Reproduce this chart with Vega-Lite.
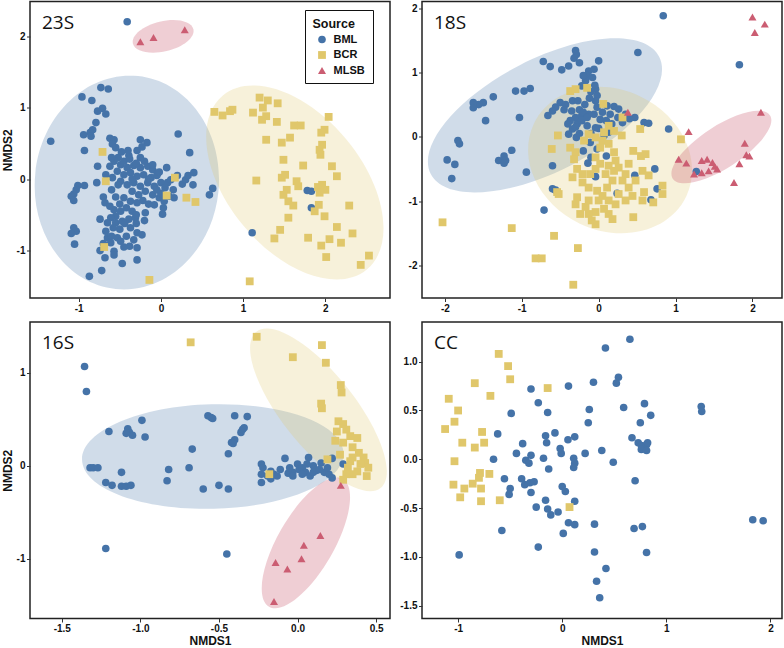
{
"$schema":"https://vega.github.io/schema/vega-lite/v6.json",
"padding":{"left":0,"top":0.5,"right":0,"bottom":0},
"background":"white",
"config":{
 "view":{"stroke":"#222","strokeWidth":1.5},
 "axis":{"domain":false,"grid":false,"tickSize":3.5,"tickColor":"#333","tickWidth":1,"labelFont":"Liberation Sans","labelFontSize":10,"labelFontWeight":"bold","labelColor":"#111","labelPadding":1.5,"titleFont":"Liberation Sans","titleFontSize":12,"titleFontWeight":"bold","titleColor":"#111"},
 "axisY":{"titlePadding":2},
 "axisX":{"titlePadding":1.5}
},
"datasets":{
"ell":[
{"p":"23S","s":"BML","x":-0.414,"y":-0.048},{"p":"23S","s":"BCR","x":1.629,"y":-0.048},{"p":"23S","s":"MLSB","x":0.027,"y":1.996},
{"p":"18S","s":"BML","x":-0.698,"y":0.332},{"p":"18S","s":"BCR","x":0.149,"y":-0.362},{"p":"18S","s":"MLSB","x":1.596,"y":-0.160},
{"p":"16S","s":"BML","x":-0.539,"y":0.100},{"p":"16S","s":"BCR","x":0.133,"y":0.603},{"p":"16S","s":"MLSB","x":0.053,"y":-0.830}
],
"pts":[
{"p":"23S","s":"BML","x":-0.41,"y":2.2},{"p":"23S","s":"BML","x":-1.34,"y":0.53},{"p":"23S","s":"BML","x":-0.96,"y":1.15},{"p":"23S","s":"BML","x":-0.84,"y":1.1},{"p":"23S","s":"BML","x":-0.73,"y":1.28},{"p":"23S","s":"BML","x":-0.64,"y":1.26},{"p":"23S","s":"BML","x":-0.71,"y":0.99},{"p":"23S","s":"BML","x":-0.77,"y":0.95},{"p":"23S","s":"BML","x":-0.67,"y":0.91},{"p":"23S","s":"BML","x":-0.79,"y":0.79},{"p":"23S","s":"BML","x":-0.83,"y":0.69},{"p":"23S","s":"BML","x":-0.86,"y":0.65},{"p":"23S","s":"BML","x":-0.94,"y":0.62},{"p":"23S","s":"BML","x":-0.85,"y":0.6},{"p":"23S","s":"BML","x":-0.93,"y":0.4},{"p":"23S","s":"BML","x":-0.77,"y":0.18},{"p":"23S","s":"BML","x":-0.62,"y":0.57},{"p":"23S","s":"BML","x":-0.57,"y":0.55},{"p":"23S","s":"BML","x":-0.59,"y":0.49},{"p":"23S","s":"BML","x":-0.55,"y":0.44},{"p":"23S","s":"BML","x":-0.25,"y":0.55},{"p":"23S","s":"BML","x":-0.17,"y":0.51},{"p":"23S","s":"BML","x":-0.23,"y":0.45},{"p":"23S","s":"BML","x":-0.29,"y":0.4},{"p":"23S","s":"BML","x":-0.39,"y":0.33},{"p":"23S","s":"BML","x":-0.52,"y":0.3},{"p":"23S","s":"BML","x":0.21,"y":0.63},{"p":"23S","s":"BML","x":0.35,"y":0.37},{"p":"23S","s":"BML","x":0.07,"y":0.16},{"p":"23S","s":"BML","x":-0.57,"y":0.25},{"p":"23S","s":"BML","x":-0.49,"y":0.2},{"p":"23S","s":"BML","x":-0.41,"y":0.16},{"p":"23S","s":"BML","x":-0.33,"y":0.19},{"p":"23S","s":"BML","x":-0.25,"y":0.16},{"p":"23S","s":"BML","x":-0.16,"y":0.18},{"p":"23S","s":"BML","x":-0.1,"y":0.13},{"p":"23S","s":"BML","x":-0.67,"y":0.06},{"p":"23S","s":"BML","x":-0.59,"y":0.02},{"p":"23S","s":"BML","x":-0.53,"y":0.11},{"p":"23S","s":"BML","x":-0.45,"y":0.06},{"p":"23S","s":"BML","x":-0.37,"y":0.09},{"p":"23S","s":"BML","x":-0.29,"y":0.04},{"p":"23S","s":"BML","x":-0.21,"y":0.06},{"p":"23S","s":"BML","x":-0.12,"y":0.02},{"p":"23S","s":"BML","x":-0.04,"y":0.08},{"p":"23S","s":"BML","x":-0.49,"y":-0.03},{"p":"23S","s":"BML","x":-0.41,"y":-0.08},{"p":"23S","s":"BML","x":-0.33,"y":-0.05},{"p":"23S","s":"BML","x":-0.25,"y":-0.1},{"p":"23S","s":"BML","x":-0.16,"y":-0.05},{"p":"23S","s":"BML","x":-0.08,"y":-0.1},{"p":"23S","s":"BML","x":-0.35,"y":-0.17},{"p":"23S","s":"BML","x":-0.27,"y":-0.22},{"p":"23S","s":"BML","x":-0.19,"y":-0.17},{"p":"23S","s":"BML","x":-0.1,"y":-0.22},{"p":"23S","s":"BML","x":-0.02,"y":-0.26},{"p":"23S","s":"BML","x":-0.45,"y":-0.26},{"p":"23S","s":"BML","x":-0.37,"y":-0.31},{"p":"23S","s":"BML","x":-0.29,"y":-0.33},{"p":"23S","s":"BML","x":0.08,"y":-0.05},{"p":"23S","s":"BML","x":0.12,"y":-0.01},{"p":"23S","s":"BML","x":0.1,"y":-0.24},{"p":"23S","s":"BML","x":0.03,"y":-0.4},{"p":"23S","s":"BML","x":0.02,"y":-0.49},{"p":"23S","s":"BML","x":0.16,"y":-0.26},{"p":"23S","s":"BML","x":0.26,"y":-0.07},{"p":"23S","s":"BML","x":0.3,"y":-0.01},{"p":"23S","s":"BML","x":0.33,"y":0.05},{"p":"23S","s":"BML","x":0.4,"y":0.09},{"p":"23S","s":"BML","x":0.39,"y":-0.08},{"p":"23S","s":"BML","x":0.63,"y":-0.13},{"p":"23S","s":"BML","x":0.59,"y":-0.22},{"p":"23S","s":"BML","x":-1.01,"y":-0.09},{"p":"23S","s":"BML","x":-0.93,"y":-0.09},{"p":"23S","s":"BML","x":-1.03,"y":-0.15},{"p":"23S","s":"BML","x":-1.06,"y":-0.21},{"p":"23S","s":"BML","x":-1.09,"y":-0.24},{"p":"23S","s":"BML","x":-1.06,"y":-0.3},{"p":"23S","s":"BML","x":-0.78,"y":-0.05},{"p":"23S","s":"BML","x":-0.68,"y":-0.33},{"p":"23S","s":"BML","x":-0.57,"y":-0.43},{"p":"23S","s":"BML","x":-0.49,"y":-0.45},{"p":"23S","s":"BML","x":-0.55,"y":-0.52},{"p":"23S","s":"BML","x":-0.61,"y":-0.54},{"p":"23S","s":"BML","x":-0.74,"y":-0.56},{"p":"23S","s":"BML","x":-0.65,"y":-0.61},{"p":"23S","s":"BML","x":-0.55,"y":-0.61},{"p":"23S","s":"BML","x":-0.47,"y":-0.59},{"p":"23S","s":"BML","x":-0.39,"y":-0.56},{"p":"23S","s":"BML","x":-0.31,"y":-0.54},{"p":"23S","s":"BML","x":-0.37,"y":-0.68},{"p":"23S","s":"BML","x":-0.29,"y":-0.75},{"p":"23S","s":"BML","x":-0.23,"y":-0.78},{"p":"23S","s":"BML","x":-0.67,"y":-0.73},{"p":"23S","s":"BML","x":-0.65,"y":-0.82},{"p":"23S","s":"BML","x":-0.61,"y":-0.89},{"p":"23S","s":"BML","x":-0.53,"y":-0.82},{"p":"23S","s":"BML","x":-0.49,"y":-0.87},{"p":"23S","s":"BML","x":-0.42,"y":-0.8},{"p":"23S","s":"BML","x":-0.38,"y":-0.94},{"p":"23S","s":"BML","x":-0.29,"y":-0.96},{"p":"23S","s":"BML","x":-0.74,"y":-1.0},{"p":"23S","s":"BML","x":-0.68,"y":-1.1},{"p":"23S","s":"BML","x":-0.57,"y":-1.01},{"p":"23S","s":"BML","x":-0.57,"y":-1.06},{"p":"23S","s":"BML","x":-0.29,"y":-1.13},{"p":"23S","s":"BML","x":-0.47,"y":-1.18},{"p":"23S","s":"BML","x":-0.72,"y":-1.28},{"p":"23S","s":"BML","x":-0.87,"y":-1.36},{"p":"23S","s":"BML","x":-1.06,"y":-0.68},{"p":"23S","s":"BML","x":-1.03,"y":-0.73},{"p":"23S","s":"BML","x":-1.09,"y":-0.76},{"p":"23S","s":"BML","x":-1.05,"y":-0.91},{"p":"23S","s":"BML","x":-0.19,"y":-0.47},{"p":"23S","s":"BML","x":-0.08,"y":-0.36},{"p":"23S","s":"BML","x":0.04,"y":-0.31},{"p":"23S","s":"BML","x":1.83,"y":-0.17},{"p":"23S","s":"BML","x":1.78,"y":-0.16},{"p":"23S","s":"BML","x":1.83,"y":-0.4},{"p":"23S","s":"BML","x":1.11,"y":-0.75},
{"p":"23S","s":"BML","x":-0.45,"y":0.25},{"p":"23S","s":"BML","x":-0.38,"y":0.28},{"p":"23S","s":"BML","x":-0.3,"y":0.22},{"p":"23S","s":"BML","x":-0.2,"y":0.25},{"p":"23S","s":"BML","x":-0.1,"y":0.2},{"p":"23S","s":"BML","x":-0.05,"y":0.05},{"p":"23S","s":"BML","x":0.0,"y":-0.05},{"p":"23S","s":"BML","x":-0.02,"y":0.1},{"p":"23S","s":"BML","x":-0.15,"y":0.0},{"p":"23S","s":"BML","x":-0.35,"y":0.0},{"p":"23S","s":"BML","x":-0.52,"y":-0.08},{"p":"23S","s":"BML","x":-0.6,"y":-0.15},{"p":"23S","s":"BML","x":-0.55,"y":-0.25},{"p":"23S","s":"BML","x":-0.5,"y":-0.35},{"p":"23S","s":"BML","x":-0.42,"y":-0.4},{"p":"23S","s":"BML","x":-0.35,"y":-0.45},{"p":"23S","s":"BML","x":-0.3,"y":-0.5},{"p":"23S","s":"BML","x":-0.22,"y":-0.3},{"p":"23S","s":"BML","x":-0.15,"y":-0.35},{"p":"23S","s":"BML","x":-0.05,"y":-0.15},{"p":"23S","s":"BML","x":0.05,"y":-0.12},{"p":"23S","s":"BML","x":-0.25,"y":0.3},{"p":"23S","s":"BML","x":-0.4,"y":0.4},{"p":"23S","s":"BML","x":-0.48,"y":0.38},{"p":"23S","s":"BML","x":-0.6,"y":0.3},{"p":"23S","s":"BML","x":-0.62,"y":0.18},{"p":"23S","s":"BML","x":-0.7,"y":-0.25},{"p":"23S","s":"BML","x":-0.62,"y":-0.38},{"p":"23S","s":"BML","x":-0.58,"y":-0.68},{"p":"23S","s":"BML","x":-0.5,"y":-0.7},{"p":"23S","s":"BML","x":-0.44,"y":-0.62},{"p":"23S","s":"BML","x":-0.6,"y":-0.8},{"p":"23S","s":"BML","x":-0.7,"y":-0.9},{"p":"23S","s":"BML","x":-0.45,"y":-0.95},{"p":"23S","s":"BML","x":-0.33,"y":-0.85},{"p":"23S","s":"BML","x":-0.3,"y":-0.62},{"p":"23S","s":"BML","x":-0.2,"y":-0.58},{"p":"23S","s":"BML","x":0.0,"y":-0.2},{"p":"23S","s":"BML","x":0.15,"y":-0.15},{"p":"23S","s":"BML","x":0.2,"y":0.05},
{"p":"23S","s":"BCR","x":-0.71,"y":0.38},{"p":"23S","s":"BCR","x":-0.67,"y":-0.03},{"p":"23S","s":"BCR","x":0.17,"y":0.02},{"p":"23S","s":"BCR","x":0.07,"y":-0.23},{"p":"23S","s":"BCR","x":0.31,"y":-0.26},{"p":"23S","s":"BCR","x":0.42,"y":-0.32},{"p":"23S","s":"BCR","x":-0.69,"y":-0.95},{"p":"23S","s":"BCR","x":-0.14,"y":-1.41},{"p":"23S","s":"BCR","x":1.08,"y":-1.43},{"p":"23S","s":"BCR","x":0.65,"y":0.94},{"p":"23S","s":"BCR","x":0.75,"y":0.89},{"p":"23S","s":"BCR","x":0.84,"y":0.95},{"p":"23S","s":"BCR","x":0.87,"y":0.97},{"p":"23S","s":"BCR","x":1.2,"y":1.14},{"p":"23S","s":"BCR","x":1.3,"y":1.1},{"p":"23S","s":"BCR","x":1.42,"y":1.06},{"p":"23S","s":"BCR","x":1.12,"y":0.93},{"p":"23S","s":"BCR","x":1.24,"y":1.0},{"p":"23S","s":"BCR","x":1.28,"y":0.88},{"p":"23S","s":"BCR","x":1.23,"y":0.83},{"p":"23S","s":"BCR","x":1.41,"y":0.8},{"p":"23S","s":"BCR","x":1.62,"y":0.75},{"p":"23S","s":"BCR","x":1.7,"y":0.75},{"p":"23S","s":"BCR","x":2.04,"y":0.87},{"p":"23S","s":"BCR","x":1.99,"y":0.69},{"p":"23S","s":"BCR","x":1.95,"y":0.65},{"p":"23S","s":"BCR","x":1.57,"y":0.58},{"p":"23S","s":"BCR","x":1.47,"y":0.51},{"p":"23S","s":"BCR","x":1.28,"y":0.55},{"p":"23S","s":"BCR","x":1.96,"y":0.48},{"p":"23S","s":"BCR","x":1.93,"y":0.41},{"p":"23S","s":"BCR","x":1.94,"y":0.34},{"p":"23S","s":"BCR","x":1.49,"y":0.27},{"p":"23S","s":"BCR","x":1.73,"y":0.19},{"p":"23S","s":"BCR","x":2.08,"y":0.18},{"p":"23S","s":"BCR","x":2.14,"y":0.04},{"p":"23S","s":"BCR","x":1.16,"y":-0.02},{"p":"23S","s":"BCR","x":1.47,"y":0.02},{"p":"23S","s":"BCR","x":1.51,"y":0.06},{"p":"23S","s":"BCR","x":1.65,"y":-0.03},{"p":"23S","s":"BCR","x":1.67,"y":-0.1},{"p":"23S","s":"BCR","x":1.53,"y":-0.15},{"p":"23S","s":"BCR","x":1.49,"y":-0.22},{"p":"23S","s":"BCR","x":1.55,"y":-0.31},{"p":"23S","s":"BCR","x":1.61,"y":-0.37},{"p":"23S","s":"BCR","x":1.91,"y":-0.11},{"p":"23S","s":"BCR","x":1.96,"y":-0.08},{"p":"23S","s":"BCR","x":2.0,"y":-0.15},{"p":"23S","s":"BCR","x":1.93,"y":-0.19},{"p":"23S","s":"BCR","x":1.92,"y":-0.36},{"p":"23S","s":"BCR","x":1.87,"y":-0.45},{"p":"23S","s":"BCR","x":1.99,"y":-0.52},{"p":"23S","s":"BCR","x":1.55,"y":-0.54},{"p":"23S","s":"BCR","x":2.29,"y":-0.37},{"p":"23S","s":"BCR","x":1.45,"y":-0.71},{"p":"23S","s":"BCR","x":1.38,"y":-0.83},{"p":"23S","s":"BCR","x":1.79,"y":-0.82},{"p":"23S","s":"BCR","x":2.14,"y":-0.67},{"p":"23S","s":"BCR","x":2.33,"y":-0.76},{"p":"23S","s":"BCR","x":2.05,"y":-0.84},{"p":"23S","s":"BCR","x":2.19,"y":-0.89},{"p":"23S","s":"BCR","x":1.95,"y":-0.93},{"p":"23S","s":"BCR","x":2.01,"y":-1.09},{"p":"23S","s":"BCR","x":2.53,"y":-1.07},{"p":"23S","s":"BCR","x":2.43,"y":-1.2},
{"p":"23S","s":"MLSB","x":-0.25,"y":1.92},{"p":"23S","s":"MLSB","x":-0.09,"y":1.98},{"p":"23S","s":"MLSB","x":0.29,"y":2.09},
{"p":"18S","s":"BML","x":0.84,"y":1.88},{"p":"18S","s":"BML","x":1.83,"y":1.12},{"p":"18S","s":"BML","x":0.51,"y":1.31},{"p":"18S","s":"BML","x":0.0,"y":1.18},{"p":"18S","s":"BML","x":-0.3,"y":1.34},{"p":"18S","s":"BML","x":-0.29,"y":1.28},{"p":"18S","s":"BML","x":-0.32,"y":1.22},{"p":"18S","s":"BML","x":-0.39,"y":1.1},{"p":"18S","s":"BML","x":-0.48,"y":1.04},{"p":"18S","s":"BML","x":-0.63,"y":1.09},{"p":"18S","s":"BML","x":-0.72,"y":1.17},{"p":"18S","s":"BML","x":-0.13,"y":1.02},{"p":"18S","s":"BML","x":-0.06,"y":1.05},{"p":"18S","s":"BML","x":-0.15,"y":0.95},{"p":"18S","s":"BML","x":-0.08,"y":0.92},{"p":"18S","s":"BML","x":-0.17,"y":0.87},{"p":"18S","s":"BML","x":-0.22,"y":0.79},{"p":"18S","s":"BML","x":-0.04,"y":0.74},{"p":"18S","s":"BML","x":-0.02,"y":0.64},{"p":"18S","s":"BML","x":-0.04,"y":0.56},{"p":"18S","s":"BML","x":-0.02,"y":0.46},{"p":"18S","s":"BML","x":-0.06,"y":0.35},{"p":"18S","s":"BML","x":-0.13,"y":0.35},{"p":"18S","s":"BML","x":-0.22,"y":0.33},{"p":"18S","s":"BML","x":-0.3,"y":0.3},{"p":"18S","s":"BML","x":-0.37,"y":0.25},{"p":"18S","s":"BML","x":-0.28,"y":0.2},{"p":"18S","s":"BML","x":-0.34,"y":0.12},{"p":"18S","s":"BML","x":-0.39,"y":0.04},{"p":"18S","s":"BML","x":-0.29,"y":-0.01},{"p":"18S","s":"BML","x":-0.22,"y":0.25},{"p":"18S","s":"BML","x":-0.15,"y":0.17},{"p":"18S","s":"BML","x":-0.04,"y":0.14},{"p":"18S","s":"BML","x":0.02,"y":0.27},{"p":"18S","s":"BML","x":0.11,"y":0.48},{"p":"18S","s":"BML","x":0.2,"y":0.47},{"p":"18S","s":"BML","x":0.26,"y":0.43},{"p":"18S","s":"BML","x":0.35,"y":0.35},{"p":"18S","s":"BML","x":0.47,"y":0.3},{"p":"18S","s":"BML","x":0.31,"y":0.22},{"p":"18S","s":"BML","x":0.17,"y":0.2},{"p":"18S","s":"BML","x":0.59,"y":0.22},{"p":"18S","s":"BML","x":0.65,"y":0.21},{"p":"18S","s":"BML","x":0.91,"y":0.12},{"p":"18S","s":"BML","x":-0.56,"y":0.46},{"p":"18S","s":"BML","x":-0.6,"y":0.4},{"p":"18S","s":"BML","x":-0.66,"y":0.33},{"p":"18S","s":"BML","x":-0.5,"y":0.53},{"p":"18S","s":"BML","x":-0.43,"y":0.5},{"p":"18S","s":"BML","x":-0.34,"y":0.56},{"p":"18S","s":"BML","x":-0.27,"y":0.56},{"p":"18S","s":"BML","x":-0.89,"y":0.75},{"p":"18S","s":"BML","x":-0.97,"y":0.71},{"p":"18S","s":"BML","x":-1.08,"y":0.71},{"p":"18S","s":"BML","x":-1.37,"y":0.62},{"p":"18S","s":"BML","x":-1.5,"y":0.53},{"p":"18S","s":"BML","x":-1.56,"y":0.5},{"p":"18S","s":"BML","x":-1.63,"y":0.53},{"p":"18S","s":"BML","x":-1.63,"y":0.45},{"p":"18S","s":"BML","x":-1.47,"y":0.25},{"p":"18S","s":"BML","x":-1.03,"y":0.3},{"p":"18S","s":"BML","x":-1.83,"y":-0.06},{"p":"18S","s":"BML","x":-1.81,"y":-0.11},{"p":"18S","s":"BML","x":-1.97,"y":-0.36},{"p":"18S","s":"BML","x":-1.87,"y":-0.43},{"p":"18S","s":"BML","x":-1.91,"y":-0.65},{"p":"18S","s":"BML","x":-1.3,"y":-0.37},{"p":"18S","s":"BML","x":-1.23,"y":-0.3},{"p":"18S","s":"BML","x":-1.21,"y":-0.37},{"p":"18S","s":"BML","x":-1.23,"y":-0.41},{"p":"18S","s":"BML","x":-1.13,"y":-0.21},{"p":"18S","s":"BML","x":-0.94,"y":-0.55},{"p":"18S","s":"BML","x":-0.6,"y":-0.45},{"p":"18S","s":"BML","x":-0.6,"y":-0.81},{"p":"18S","s":"BML","x":-0.56,"y":-0.83},{"p":"18S","s":"BML","x":-0.71,"y":-1.14},{"p":"18S","s":"BML","x":-0.2,"y":-0.22},{"p":"18S","s":"BML","x":-0.14,"y":-0.41},{"p":"18S","s":"BML","x":-0.1,"y":-0.32},{"p":"18S","s":"BML","x":-0.11,"y":-0.09},{"p":"18S","s":"BML","x":-0.02,"y":-0.19},{"p":"18S","s":"BML","x":0.1,"y":-0.3},{"p":"18S","s":"BML","x":-0.04,"y":-0.62},{"p":"18S","s":"BML","x":0.24,"y":-0.88},{"p":"18S","s":"BML","x":0.47,"y":-0.6},{"p":"18S","s":"BML","x":0.73,"y":-0.5},{"p":"18S","s":"BML","x":0.76,"y":-0.81},{"p":"18S","s":"BML","x":0.68,"y":-0.98},{"p":"18S","s":"BML","x":1.27,"y":-0.54},{"p":"18S","s":"BML","x":0.0,"y":0.13},{"p":"18S","s":"BML","x":0.07,"y":0.02},{"p":"18S","s":"BML","x":0.13,"y":0.07},
{"p":"18S","s":"BML","x":-0.1,"y":0.7},{"p":"18S","s":"BML","x":-0.12,"y":0.6},{"p":"18S","s":"BML","x":-0.18,"y":0.5},{"p":"18S","s":"BML","x":-0.25,"y":0.42},{"p":"18S","s":"BML","x":-0.45,"y":0.42},{"p":"18S","s":"BML","x":-0.35,"y":0.4},{"p":"18S","s":"BML","x":-0.2,"y":0.38},{"p":"18S","s":"BML","x":-0.3,"y":0.15},{"p":"18S","s":"BML","x":-0.25,"y":0.05},{"p":"18S","s":"BML","x":-0.1,"y":0.05},{"p":"18S","s":"BML","x":0.05,"y":0.38},{"p":"18S","s":"BML","x":0.15,"y":0.35},{"p":"18S","s":"BML","x":0.25,"y":0.3},{"p":"18S","s":"BML","x":0.4,"y":0.28},{"p":"18S","s":"BML","x":-0.05,"y":0.8},{"p":"18S","s":"BML","x":-0.2,"y":0.95},{"p":"18S","s":"BML","x":-0.25,"y":1.15},{"p":"18S","s":"BML","x":-0.4,"y":0.2},{"p":"18S","s":"BML","x":-0.15,"y":0.3},{"p":"18S","s":"BML","x":0.1,"y":0.25},
{"p":"18S","s":"BCR","x":-2.03,"y":-1.33},{"p":"18S","s":"BCR","x":-1.13,"y":-1.42},{"p":"18S","s":"BCR","x":-0.58,"y":-1.54},{"p":"18S","s":"BCR","x":-0.27,"y":-1.73},{"p":"18S","s":"BCR","x":-0.82,"y":-1.89},{"p":"18S","s":"BCR","x":-0.74,"y":-1.89},{"p":"18S","s":"BCR","x":-0.33,"y":-2.3},{"p":"18S","s":"BCR","x":-0.37,"y":0.71},{"p":"18S","s":"BCR","x":-0.3,"y":0.74},{"p":"18S","s":"BCR","x":-0.15,"y":0.76},{"p":"18S","s":"BCR","x":-0.53,"y":0.02},{"p":"18S","s":"BCR","x":-0.61,"y":-0.19},{"p":"18S","s":"BCR","x":-0.37,"y":-0.17},{"p":"18S","s":"BCR","x":-0.3,"y":-0.24},{"p":"18S","s":"BCR","x":-0.32,"y":-0.35},{"p":"18S","s":"BCR","x":-0.54,"y":-0.86},{"p":"18S","s":"BCR","x":-0.52,"y":-0.89},{"p":"18S","s":"BCR","x":0.06,"y":0.51},{"p":"18S","s":"BCR","x":0.31,"y":0.3},{"p":"18S","s":"BCR","x":0.54,"y":0.12},{"p":"18S","s":"BCR","x":1.07,"y":-0.04},{"p":"18S","s":"BCR","x":0.3,"y":0.02},{"p":"18S","s":"BCR","x":0.2,"y":0.09},{"p":"18S","s":"BCR","x":0.13,"y":0.17},{"p":"18S","s":"BCR","x":0.07,"y":0.07},{"p":"18S","s":"BCR","x":0.05,"y":-0.06},{"p":"18S","s":"BCR","x":-0.04,"y":-0.01},{"p":"18S","s":"BCR","x":-0.13,"y":0.04},{"p":"18S","s":"BCR","x":-0.19,"y":-0.06},{"p":"18S","s":"BCR","x":0.13,"y":-0.11},{"p":"18S","s":"BCR","x":0.2,"y":-0.24},{"p":"18S","s":"BCR","x":0.02,"y":-0.17},{"p":"18S","s":"BCR","x":-0.04,"y":-0.32},{"p":"18S","s":"BCR","x":0.02,"y":-0.42},{"p":"18S","s":"BCR","x":0.13,"y":-0.45},{"p":"18S","s":"BCR","x":0.22,"y":-0.37},{"p":"18S","s":"BCR","x":0.45,"y":-0.22},{"p":"18S","s":"BCR","x":0.55,"y":-0.3},{"p":"18S","s":"BCR","x":0.61,"y":-0.27},{"p":"18S","s":"BCR","x":0.39,"y":-0.42},{"p":"18S","s":"BCR","x":0.57,"y":-0.53},{"p":"18S","s":"BCR","x":0.65,"y":-0.6},{"p":"18S","s":"BCR","x":0.83,"y":-0.76},{"p":"18S","s":"BCR","x":0.83,"y":-0.89},{"p":"18S","s":"BCR","x":0.71,"y":-1.02},{"p":"18S","s":"BCR","x":0.57,"y":-0.99},{"p":"18S","s":"BCR","x":0.45,"y":-1.25},{"p":"18S","s":"BCR","x":-0.28,"y":-0.5},{"p":"18S","s":"BCR","x":-0.21,"y":-0.58},{"p":"18S","s":"BCR","x":-0.34,"y":-0.63},{"p":"18S","s":"BCR","x":-0.21,"y":-0.71},{"p":"18S","s":"BCR","x":-0.13,"y":-0.79},{"p":"18S","s":"BCR","x":-0.02,"y":-0.84},{"p":"18S","s":"BCR","x":0.05,"y":-0.92},{"p":"18S","s":"BCR","x":0.11,"y":-0.79},{"p":"18S","s":"BCR","x":0.18,"y":-0.68},{"p":"18S","s":"BCR","x":0.31,"y":-0.68},{"p":"18S","s":"BCR","x":0.39,"y":-0.79},{"p":"18S","s":"BCR","x":0.44,"y":-0.92},{"p":"18S","s":"BCR","x":0.35,"y":-0.99},{"p":"18S","s":"BCR","x":0.22,"y":-1.05},{"p":"18S","s":"BCR","x":0.13,"y":-0.99},{"p":"18S","s":"BCR","x":0.07,"y":-1.12},{"p":"18S","s":"BCR","x":0.13,"y":-1.2},{"p":"18S","s":"BCR","x":0.18,"y":-1.28},{"p":"18S","s":"BCR","x":-0.04,"y":-1.17},{"p":"18S","s":"BCR","x":-0.13,"y":-1.2},{"p":"18S","s":"BCR","x":-0.24,"y":-1.2},{"p":"18S","s":"BCR","x":-0.3,"y":-1.05},{"p":"18S","s":"BCR","x":-0.28,"y":-0.94},{"p":"18S","s":"BCR","x":-0.17,"y":-1.09},{"p":"18S","s":"BCR","x":-0.09,"y":-1.3},{"p":"18S","s":"BCR","x":-0.04,"y":-1.36},{"p":"18S","s":"BCR","x":-0.13,"y":-0.99},{"p":"18S","s":"BCR","x":0.0,"y":-0.99},{"p":"18S","s":"BCR","x":0.26,"y":-0.89},{"p":"18S","s":"BCR","x":0.35,"y":-0.58},{"p":"18S","s":"BCR","x":0.48,"y":-0.68},{"p":"18S","s":"BCR","x":0.59,"y":-0.86},{"p":"18S","s":"BCR","x":0.26,"y":-0.48},{"p":"18S","s":"BCR","x":-0.11,"y":-0.58},{"p":"18S","s":"BCR","x":-0.04,"y":-0.5},{"p":"18S","s":"BCR","x":0.09,"y":-0.58},{"p":"18S","s":"BCR","x":0.2,"y":-0.53},
{"p":"18S","s":"MLSB","x":2.0,"y":1.86},{"p":"18S","s":"MLSB","x":2.16,"y":1.75},{"p":"18S","s":"MLSB","x":2.03,"y":1.62},{"p":"18S","s":"MLSB","x":2.11,"y":0.38},{"p":"18S","s":"MLSB","x":0.38,"y":0.38},{"p":"18S","s":"MLSB","x":1.17,"y":0.08},{"p":"18S","s":"MLSB","x":1.04,"y":-0.35},{"p":"18S","s":"MLSB","x":1.14,"y":-0.41},{"p":"18S","s":"MLSB","x":1.34,"y":-0.37},{"p":"18S","s":"MLSB","x":1.41,"y":-0.35},{"p":"18S","s":"MLSB","x":1.48,"y":-0.4},{"p":"18S","s":"MLSB","x":1.51,"y":-0.46},{"p":"18S","s":"MLSB","x":1.54,"y":-0.5},{"p":"18S","s":"MLSB","x":1.43,"y":-0.53},{"p":"18S","s":"MLSB","x":1.34,"y":-0.56},{"p":"18S","s":"MLSB","x":1.24,"y":-0.58},{"p":"18S","s":"MLSB","x":1.9,"y":-0.1},{"p":"18S","s":"MLSB","x":1.92,"y":-0.28},{"p":"18S","s":"MLSB","x":1.96,"y":-0.3},{"p":"18S","s":"MLSB","x":1.83,"y":-0.42},{"p":"18S","s":"MLSB","x":1.76,"y":-0.71},
{"p":"16S","s":"BML","x":-1.355,"y":1.07},{"p":"16S","s":"BML","x":-1.343,"y":0.8},{"p":"16S","s":"BML","x":-1.2,"y":0.37},{"p":"16S","s":"BML","x":-1.08,"y":0.4},{"p":"16S","s":"BML","x":-1.07,"y":0.36},{"p":"16S","s":"BML","x":-1.05,"y":0.33},{"p":"16S","s":"BML","x":-1.09,"y":0.35},{"p":"16S","s":"BML","x":-0.99,"y":0.49},{"p":"16S","s":"BML","x":-0.97,"y":0.31},{"p":"16S","s":"BML","x":-1.32,"y":-0.02},{"p":"16S","s":"BML","x":-1.3,"y":-0.02},{"p":"16S","s":"BML","x":-1.27,"y":-0.02},{"p":"16S","s":"BML","x":-1.12,"y":-0.07},{"p":"16S","s":"BML","x":-1.22,"y":-0.18},{"p":"16S","s":"BML","x":-1.18,"y":-0.21},{"p":"16S","s":"BML","x":-1.12,"y":-0.22},{"p":"16S","s":"BML","x":-1.09,"y":-0.22},{"p":"16S","s":"BML","x":-1.06,"y":-0.21},{"p":"16S","s":"BML","x":-1.22,"y":-0.89},{"p":"16S","s":"BML","x":-0.83,"y":-0.16},{"p":"16S","s":"BML","x":-0.82,"y":-0.04},{"p":"16S","s":"BML","x":-0.69,"y":-0.02},{"p":"16S","s":"BML","x":-0.67,"y":0.18},{"p":"16S","s":"BML","x":-0.6,"y":-0.25},{"p":"16S","s":"BML","x":-0.57,"y":0.54},{"p":"16S","s":"BML","x":-0.55,"y":0.52},{"p":"16S","s":"BML","x":-0.54,"y":0.51},{"p":"16S","s":"BML","x":-0.5,"y":-0.21},{"p":"16S","s":"BML","x":-0.44,"y":0.13},{"p":"16S","s":"BML","x":-0.44,"y":-0.25},{"p":"16S","s":"BML","x":-0.45,"y":-0.95},{"p":"16S","s":"BML","x":-0.4,"y":0.54},{"p":"16S","s":"BML","x":-0.32,"y":0.53},{"p":"16S","s":"BML","x":-0.42,"y":0.25},{"p":"16S","s":"BML","x":-0.4,"y":0.28},{"p":"16S","s":"BML","x":-0.36,"y":0.36},{"p":"16S","s":"BML","x":-0.35,"y":0.39},{"p":"16S","s":"BML","x":-0.34,"y":0.41},{"p":"16S","s":"BML","x":-0.41,"y":0.24},{"p":"16S","s":"BML","x":-0.23,"y":0.02},{"p":"16S","s":"BML","x":-0.22,"y":-0.02},{"p":"16S","s":"BML","x":-0.23,"y":-0.09},{"p":"16S","s":"BML","x":-0.23,"y":-0.18},{"p":"16S","s":"BML","x":-0.19,"y":-0.11},{"p":"16S","s":"BML","x":-0.17,"y":-0.06},{"p":"16S","s":"BML","x":-0.15,"y":-0.09},{"p":"16S","s":"BML","x":-0.17,"y":-0.14},{"p":"16S","s":"BML","x":-0.13,"y":-0.11},{"p":"16S","s":"BML","x":-0.08,"y":0.08},{"p":"16S","s":"BML","x":-0.06,"y":-0.08},{"p":"16S","s":"BML","x":-0.03,"y":-0.07},{"p":"16S","s":"BML","x":0.0,"y":0.02},{"p":"16S","s":"BML","x":0.01,"y":-0.04},{"p":"16S","s":"BML","x":0.03,"y":-0.02},{"p":"16S","s":"BML","x":0.05,"y":-0.07},{"p":"16S","s":"BML","x":0.07,"y":0.09},{"p":"16S","s":"BML","x":0.08,"y":-0.11},{"p":"16S","s":"BML","x":0.1,"y":0.0},{"p":"16S","s":"BML","x":0.12,"y":-0.05},{"p":"16S","s":"BML","x":0.15,"y":0.03},{"p":"16S","s":"BML","x":0.17,"y":-0.07},{"p":"16S","s":"BML","x":0.2,"y":-0.09},{"p":"16S","s":"BML","x":0.22,"y":0.08},{"p":"16S","s":"BML","x":0.22,"y":-0.13},{"p":"16S","s":"BML","x":0.29,"y":0.02},{"p":"16S","s":"BML","x":-0.03,"y":-0.11},{"p":"16S","s":"BML","x":0.03,"y":-0.09},{"p":"16S","s":"BML","x":0.1,"y":-0.07},{"p":"16S","s":"BML","x":0.14,"y":-0.04},{"p":"16S","s":"BML","x":-0.11,"y":-0.04},{"p":"16S","s":"BML","x":-0.05,"y":-0.02},{"p":"16S","s":"BML","x":0.06,"y":0.02},{"p":"16S","s":"BML","x":0.19,"y":-0.02},
{"p":"16S","s":"BCR","x":-0.68,"y":1.33},{"p":"16S","s":"BCR","x":-0.26,"y":1.39},{"p":"16S","s":"BCR","x":-0.03,"y":1.17},{"p":"16S","s":"BCR","x":0.155,"y":1.3},{"p":"16S","s":"BCR","x":0.18,"y":1.11},{"p":"16S","s":"BCR","x":0.275,"y":0.87},{"p":"16S","s":"BCR","x":0.28,"y":0.79},{"p":"16S","s":"BCR","x":0.15,"y":0.67},{"p":"16S","s":"BCR","x":0.155,"y":0.62},{"p":"16S","s":"BCR","x":0.26,"y":0.48},{"p":"16S","s":"BCR","x":0.29,"y":0.45},{"p":"16S","s":"BCR","x":0.31,"y":0.39},{"p":"16S","s":"BCR","x":0.25,"y":0.37},{"p":"16S","s":"BCR","x":0.335,"y":0.32},{"p":"16S","s":"BCR","x":0.38,"y":0.3},{"p":"16S","s":"BCR","x":0.24,"y":0.27},{"p":"16S","s":"BCR","x":0.29,"y":0.25},{"p":"16S","s":"BCR","x":0.35,"y":0.2},{"p":"16S","s":"BCR","x":0.39,"y":0.14},{"p":"16S","s":"BCR","x":0.42,"y":0.09},{"p":"16S","s":"BCR","x":0.43,"y":0.03},{"p":"16S","s":"BCR","x":0.45,"y":-0.02},{"p":"16S","s":"BCR","x":0.44,"y":-0.11},{"p":"16S","s":"BCR","x":0.35,"y":0.09},{"p":"16S","s":"BCR","x":0.32,"y":-0.02},{"p":"16S","s":"BCR","x":0.31,"y":-0.09},{"p":"16S","s":"BCR","x":0.29,"y":-0.15},{"p":"16S","s":"BCR","x":0.38,"y":-0.06},{"p":"16S","s":"BCR","x":0.4,"y":0.02},{"p":"16S","s":"BCR","x":0.27,"y":0.12},{"p":"16S","s":"BCR","x":0.335,"y":0.05},{"p":"16S","s":"BCR","x":0.35,"y":-0.09},{"p":"16S","s":"BCR","x":-0.18,"y":-0.09},{"p":"16S","s":"BCR","x":0.19,"y":0.07},
{"p":"16S","s":"MLSB","x":0.275,"y":-0.21},{"p":"16S","s":"MLSB","x":0.145,"y":-0.75},{"p":"16S","s":"MLSB","x":0.04,"y":-0.855},{"p":"16S","s":"MLSB","x":0.025,"y":-1.0},{"p":"16S","s":"MLSB","x":-0.065,"y":-1.11},{"p":"16S","s":"MLSB","x":-0.14,"y":-1.04},{"p":"16S","s":"MLSB","x":-0.15,"y":-1.46},
{"p":"CC","s":"BML","x":0.65,"y":1.23},{"p":"CC","s":"BML","x":0.415,"y":1.14},{"p":"CC","s":"BML","x":0.54,"y":0.84},{"p":"CC","s":"BML","x":0.52,"y":0.78},{"p":"CC","s":"BML","x":0.3,"y":0.79},{"p":"CC","s":"BML","x":0.06,"y":0.75},{"p":"CC","s":"BML","x":-0.3,"y":0.72},{"p":"CC","s":"BML","x":-0.23,"y":0.58},{"p":"CC","s":"BML","x":-0.49,"y":0.47},{"p":"CC","s":"BML","x":-0.14,"y":0.48},{"p":"CC","s":"BML","x":0.26,"y":0.51},{"p":"CC","s":"BML","x":0.25,"y":0.375},{"p":"CC","s":"BML","x":0.59,"y":0.53},{"p":"CC","s":"BML","x":0.79,"y":0.57},{"p":"CC","s":"BML","x":0.75,"y":0.375},{"p":"CC","s":"BML","x":0.85,"y":0.45},{"p":"CC","s":"BML","x":1.335,"y":0.54},{"p":"CC","s":"BML","x":1.34,"y":0.49},{"p":"CC","s":"BML","x":-0.62,"y":0.26},{"p":"CC","s":"BML","x":-0.07,"y":0.27},{"p":"CC","s":"BML","x":-0.16,"y":0.24},{"p":"CC","s":"BML","x":-0.15,"y":0.17},{"p":"CC","s":"BML","x":0.055,"y":0.2},{"p":"CC","s":"BML","x":0.12,"y":0.23},{"p":"CC","s":"BML","x":-0.38,"y":0.16},{"p":"CC","s":"BML","x":-0.02,"y":0.11},{"p":"CC","s":"BML","x":-0.01,"y":0.06},{"p":"CC","s":"BML","x":0.22,"y":0.06},{"p":"CC","s":"BML","x":0.38,"y":0.09},{"p":"CC","s":"BML","x":0.67,"y":0.22},{"p":"CC","s":"BML","x":0.73,"y":0.17},{"p":"CC","s":"BML","x":0.76,"y":0.14},{"p":"CC","s":"BML","x":0.81,"y":0.15},{"p":"CC","s":"BML","x":0.82,"y":0.17},{"p":"CC","s":"BML","x":0.76,"y":0.1},{"p":"CC","s":"BML","x":0.81,"y":0.09},{"p":"CC","s":"BML","x":-0.66,"y":0.0},{"p":"CC","s":"BML","x":-0.44,"y":0.06},{"p":"CC","s":"BML","x":-0.35,"y":-0.01},{"p":"CC","s":"BML","x":-0.32,"y":-0.04},{"p":"CC","s":"BML","x":-0.3,"y":0.04},{"p":"CC","s":"BML","x":-0.18,"y":0.01},{"p":"CC","s":"BML","x":0.11,"y":0.01},{"p":"CC","s":"BML","x":0.12,"y":-0.04},{"p":"CC","s":"BML","x":0.11,"y":-0.085},{"p":"CC","s":"BML","x":-0.13,"y":-0.1},{"p":"CC","s":"BML","x":0.49,"y":-0.03},{"p":"CC","s":"BML","x":-0.555,"y":-0.2},{"p":"CC","s":"BML","x":-0.5,"y":-0.3},{"p":"CC","s":"BML","x":-0.51,"y":-0.36},{"p":"CC","s":"BML","x":-0.39,"y":-0.2},{"p":"CC","s":"BML","x":-0.36,"y":-0.26},{"p":"CC","s":"BML","x":-0.31,"y":-0.24},{"p":"CC","s":"BML","x":-0.27,"y":-0.23},{"p":"CC","s":"BML","x":-0.3,"y":-0.34},{"p":"CC","s":"BML","x":0.0,"y":-0.28},{"p":"CC","s":"BML","x":0.03,"y":-0.33},{"p":"CC","s":"BML","x":0.12,"y":-0.43},{"p":"CC","s":"BML","x":-0.16,"y":-0.42},{"p":"CC","s":"BML","x":-0.25,"y":-0.49},{"p":"CC","s":"BML","x":-0.14,"y":-0.51},{"p":"CC","s":"BML","x":-0.11,"y":-0.57},{"p":"CC","s":"BML","x":-0.04,"y":-0.54},{"p":"CC","s":"BML","x":-0.58,"y":-0.73},{"p":"CC","s":"BML","x":0.01,"y":-0.76},{"p":"CC","s":"BML","x":0.06,"y":-0.65},{"p":"CC","s":"BML","x":0.12,"y":-0.67},{"p":"CC","s":"BML","x":0.31,"y":-0.665},{"p":"CC","s":"BML","x":0.7,"y":-0.22},{"p":"CC","s":"BML","x":0.69,"y":-0.71},{"p":"CC","s":"BML","x":0.77,"y":-0.69},{"p":"CC","s":"BML","x":-0.99,"y":-0.98},{"p":"CC","s":"BML","x":-0.23,"y":-0.9},{"p":"CC","s":"BML","x":0.31,"y":-0.95},{"p":"CC","s":"BML","x":0.81,"y":-0.955},{"p":"CC","s":"BML","x":0.42,"y":-1.12},{"p":"CC","s":"BML","x":0.33,"y":-1.25},{"p":"CC","s":"BML","x":0.36,"y":-1.42},{"p":"CC","s":"BML","x":1.83,"y":-0.62},{"p":"CC","s":"BML","x":1.93,"y":-0.63},
{"p":"CC","s":"BCR","x":-0.61,"y":1.08},{"p":"CC","s":"BCR","x":-0.52,"y":0.955},{"p":"CC","s":"BCR","x":-0.5,"y":0.82},{"p":"CC","s":"BCR","x":-0.84,"y":0.78},{"p":"CC","s":"BCR","x":-0.69,"y":0.65},{"p":"CC","s":"BCR","x":-1.09,"y":0.62},{"p":"CC","s":"BCR","x":-1.0,"y":0.5},{"p":"CC","s":"BCR","x":-1.035,"y":0.385},{"p":"CC","s":"BCR","x":-1.125,"y":0.31},{"p":"CC","s":"BCR","x":-0.77,"y":0.28},{"p":"CC","s":"BCR","x":-0.75,"y":0.17},{"p":"CC","s":"BCR","x":-0.96,"y":0.17},{"p":"CC","s":"BCR","x":-0.84,"y":0.12},{"p":"CC","s":"BCR","x":-1.035,"y":-0.02},{"p":"CC","s":"BCR","x":-0.79,"y":-0.14},{"p":"CC","s":"BCR","x":-0.7,"y":-0.15},{"p":"CC","s":"BCR","x":-0.8,"y":-0.19},{"p":"CC","s":"BCR","x":-1.045,"y":-0.26},{"p":"CC","s":"BCR","x":-0.94,"y":-0.3},{"p":"CC","s":"BCR","x":-0.86,"y":-0.25},{"p":"CC","s":"BCR","x":-0.78,"y":-0.3},{"p":"CC","s":"BCR","x":-0.98,"y":-0.39},{"p":"CC","s":"BCR","x":-0.78,"y":-0.43},{"p":"CC","s":"BCR","x":-0.6,"y":-0.42},{"p":"CC","s":"BCR","x":-0.14,"y":0.73},{"p":"CC","s":"BCR","x":0.07,"y":-0.49}
]
},
"columns":2,
"spacing":{"row":23.5,"column":32},
"bounds":"flush",
"resolve":{"legend":{"color":"independent","shape":"independent","size":"independent"}},
"concat":[
{
 "width":360,"height":296.5,
 "title":{"text":"23S","anchor":"start","frame":"group","offset":0,"dx":12,"dy":46,"baseline":"alphabetic","font":"Open Sans","fontSize":19,"fontWeight":"normal","color":"#111"},
 "encoding":{
  "x":{"field":"x","type":"quantitative","scale":{"domain":[-1.592,2.786],"nice":false,"zero":false},"axis":{"values":[-1,0,1,2],"title":null,"labelExpr":"replace(datum.label,'−','-')"}},
  "y":{"field":"y","type":"quantitative","scale":{"domain":[-1.663,2.484],"nice":false,"zero":false},"axis":{"values":[-1,0,1,2],"title":"NMDS2","labelExpr":"replace(datum.label,'−','-')"}}
 },
 "layer":[
  {"data":{"name":"ell"},"transform":[{"filter":"datum.p==='23S' && datum.s==='BML'"}],"mark":{"type":"point","shape":"M -92 0 A 92 107 0 1 0 92 0 A 92 107 0 1 0 -92 0 Z","size":4,"angle":6,"filled":true,"fill":"#4573a8","opacity":0.25,"strokeWidth":0}},
  {"data":{"name":"ell"},"transform":[{"filter":"datum.p==='23S' && datum.s==='BCR'"}],"mark":{"type":"point","shape":"M -112.9 0 A 112.9 67.2 0 1 0 112.9 0 A 112.9 67.2 0 1 0 -112.9 0 Z","size":4,"angle":50.4,"filled":true,"fill":"#e0c76b","opacity":0.25,"strokeWidth":0}},
  {"data":{"name":"ell"},"transform":[{"filter":"datum.p==='23S' && datum.s==='MLSB'"}],"mark":{"type":"point","shape":"M -31.1 0 A 31.1 15.1 0 1 0 31.1 0 A 31.1 15.1 0 1 0 -31.1 0 Z","size":4,"angle":-13.3,"filled":true,"fill":"#cb5d72","opacity":0.3,"strokeWidth":0}},
  {"data":{"name":"pts"},"transform":[{"filter":"datum.p==='23S'"}],"mark":{"type":"point","filled":true,"opacity":1,"strokeWidth":0},
   "encoding":{
    "color":{"field":"s","type":"nominal","scale":{"domain":["BML","BCR","MLSB"],"range":["#4573a8","#e0c76b","#cb5d72"]},"legend":{"title":"Source","orient":"none","legendX":275,"legendY":8.5,"strokeColor":"#111","fillColor":"white","padding":7.5,"titleFont":"Liberation Sans","titleFontSize":12.5,"titleFontWeight":"bold","titleColor":"#111","titlePadding":4,"labelFont":"Liberation Sans","labelFontSize":11,"labelFontWeight":"bold","labelColor":"#111","rowPadding":3.5,"symbolOffset":4,"labelOffset":6}},
    "shape":{"field":"s","type":"nominal","scale":{"domain":["BML","BCR","MLSB"],"range":["circle","square","triangle-up"]}},
    "size":{"field":"s","type":"nominal","scale":{"domain":["BML","BCR","MLSB"],"range":[58,64,95]}}
   }}
 ]
},
{
 "width":360,"height":296.5,
 "title":{"text":"18S","anchor":"start","frame":"group","offset":0,"dx":12,"dy":46,"baseline":"alphabetic","font":"Open Sans","fontSize":19,"fontWeight":"normal","color":"#111"},
 "encoding":{
  "x":{"field":"x","type":"quantitative","scale":{"domain":[-2.297,2.384],"nice":false,"zero":false},"axis":{"values":[-2,-1,0,1,2],"title":null,"labelExpr":"replace(datum.label,'−','-')"}},
  "y":{"field":"y","type":"quantitative","scale":{"domain":[-2.506,2.102],"nice":false,"zero":false},"axis":{"values":[-2,-1,0,1,2],"title":null,"labelExpr":"replace(datum.label,'−','-')"}}
 },
 "layer":[
  {"data":{"name":"ell"},"transform":[{"filter":"datum.p==='18S' && datum.s==='BML'"}],"mark":{"type":"point","shape":"M -128.4 0 A 128.4 56.2 0 1 0 128.4 0 A 128.4 56.2 0 1 0 -128.4 0 Z","size":4,"angle":-27.2,"filled":true,"fill":"#4573a8","opacity":0.25,"strokeWidth":0}},
  {"data":{"name":"ell"},"transform":[{"filter":"datum.p==='18S' && datum.s==='BCR'"}],"mark":{"type":"point","shape":"M -84.4 0 A 84.4 70.4 0 1 0 84.4 0 A 84.4 70.4 0 1 0 -84.4 0 Z","size":4,"angle":25.4,"filled":true,"fill":"#e0c76b","opacity":0.25,"strokeWidth":0}},
  {"data":{"name":"ell"},"transform":[{"filter":"datum.p==='18S' && datum.s==='MLSB'"}],"mark":{"type":"point","shape":"M -58 0 A 58 21 0 1 0 58 0 A 58 21 0 1 0 -58 0 Z","size":4,"angle":-33,"filled":true,"fill":"#cb5d72","opacity":0.3,"strokeWidth":0}},
  {"data":{"name":"pts"},"transform":[{"filter":"datum.p==='18S'"}],"mark":{"type":"point","filled":true,"opacity":1,"strokeWidth":0},
   "encoding":{
    "color":{"field":"s","type":"nominal","scale":{"domain":["BML","BCR","MLSB"],"range":["#4573a8","#e0c76b","#cb5d72"]},"legend":null},
    "shape":{"field":"s","type":"nominal","scale":{"domain":["BML","BCR","MLSB"],"range":["circle","square","triangle-up"]},"legend":null},
    "size":{"field":"s","type":"nominal","scale":{"domain":["BML","BCR","MLSB"],"range":[58,64,95]},"legend":null}
   }}
 ]
},
{
 "width":360,"height":296.5,
 "title":{"text":"16S","anchor":"start","frame":"group","offset":0,"dx":12,"dy":46,"baseline":"alphabetic","font":"Open Sans","fontSize":19,"fontWeight":"normal","color":"#111"},
 "encoding":{
  "x":{"field":"x","type":"quantitative","scale":{"domain":[-1.702,0.588],"nice":false,"zero":false},"axis":{"values":[-1.5,-1,-0.5,0,0.5],"format":".1f","title":"NMDS1","labelExpr":"replace(datum.label,'−','-')"}},
  "y":{"field":"y","type":"quantitative","scale":{"domain":[-1.644,1.549],"nice":false,"zero":false},"axis":{"values":[-1,0,1],"title":"NMDS2","labelExpr":"replace(datum.label,'−','-')"}}
 },
 "layer":[
  {"data":{"name":"ell"},"transform":[{"filter":"datum.p==='16S' && datum.s==='BML'"}],"mark":{"type":"point","shape":"M -130.8 0 A 130.8 52.2 0 1 0 130.8 0 A 130.8 52.2 0 1 0 -130.8 0 Z","size":4,"angle":-1.5,"filled":true,"fill":"#4573a8","opacity":0.25,"strokeWidth":0}},
  {"data":{"name":"ell"},"transform":[{"filter":"datum.p==='16S' && datum.s==='BCR'"}],"mark":{"type":"point","shape":"M -99.8 0 A 99.8 36.4 0 1 0 99.8 0 A 99.8 36.4 0 1 0 -99.8 0 Z","size":4,"angle":51.5,"filled":true,"fill":"#e0c76b","opacity":0.25,"strokeWidth":0}},
  {"data":{"name":"ell"},"transform":[{"filter":"datum.p==='16S' && datum.s==='MLSB'"}],"mark":{"type":"point","shape":"M -73.7 0 A 73.7 28.1 0 1 0 73.7 0 A 73.7 28.1 0 1 0 -73.7 0 Z","size":4,"angle":-60,"filled":true,"fill":"#cb5d72","opacity":0.3,"strokeWidth":0}},
  {"data":{"name":"pts"},"transform":[{"filter":"datum.p==='16S'"}],"mark":{"type":"point","filled":true,"opacity":1,"strokeWidth":0},
   "encoding":{
    "color":{"field":"s","type":"nominal","scale":{"domain":["BML","BCR","MLSB"],"range":["#4573a8","#e0c76b","#cb5d72"]},"legend":null},
    "shape":{"field":"s","type":"nominal","scale":{"domain":["BML","BCR","MLSB"],"range":["circle","square","triangle-up"]},"legend":null},
    "size":{"field":"s","type":"nominal","scale":{"domain":["BML","BCR","MLSB"],"range":[58,64,95]},"legend":null}
   }}
 ]
},
{
 "width":360,"height":296.5,
 "title":{"text":"CC","anchor":"start","frame":"group","offset":0,"dx":12,"dy":46,"baseline":"alphabetic","font":"Open Sans","fontSize":19,"fontWeight":"normal","color":"#111"},
 "encoding":{
  "x":{"field":"x","type":"quantitative","scale":{"domain":[-1.347,2.111],"nice":false,"zero":false},"axis":{"values":[-1,0,1,2],"title":"NMDS1","labelExpr":"replace(datum.label,'−','-')"}},
  "y":{"field":"y","type":"quantitative","scale":{"domain":[-1.632,1.407],"nice":false,"zero":false},"axis":{"values":[-1.5,-1,-0.5,0,0.5,1],"format":".1f","title":null,"labelExpr":"replace(datum.label,'−','-')"}}
 },
 "layer":[
  {"data":{"name":"pts"},"transform":[{"filter":"datum.p==='CC'"}],"mark":{"type":"point","filled":true,"opacity":1,"strokeWidth":0},
   "encoding":{
    "color":{"field":"s","type":"nominal","scale":{"domain":["BML","BCR","MLSB"],"range":["#4573a8","#e0c76b","#cb5d72"]},"legend":null},
    "shape":{"field":"s","type":"nominal","scale":{"domain":["BML","BCR","MLSB"],"range":["circle","square","triangle-up"]},"legend":null},
    "size":{"field":"s","type":"nominal","scale":{"domain":["BML","BCR","MLSB"],"range":[58,64,95]},"legend":null}
   }}
 ]
}
]
}
